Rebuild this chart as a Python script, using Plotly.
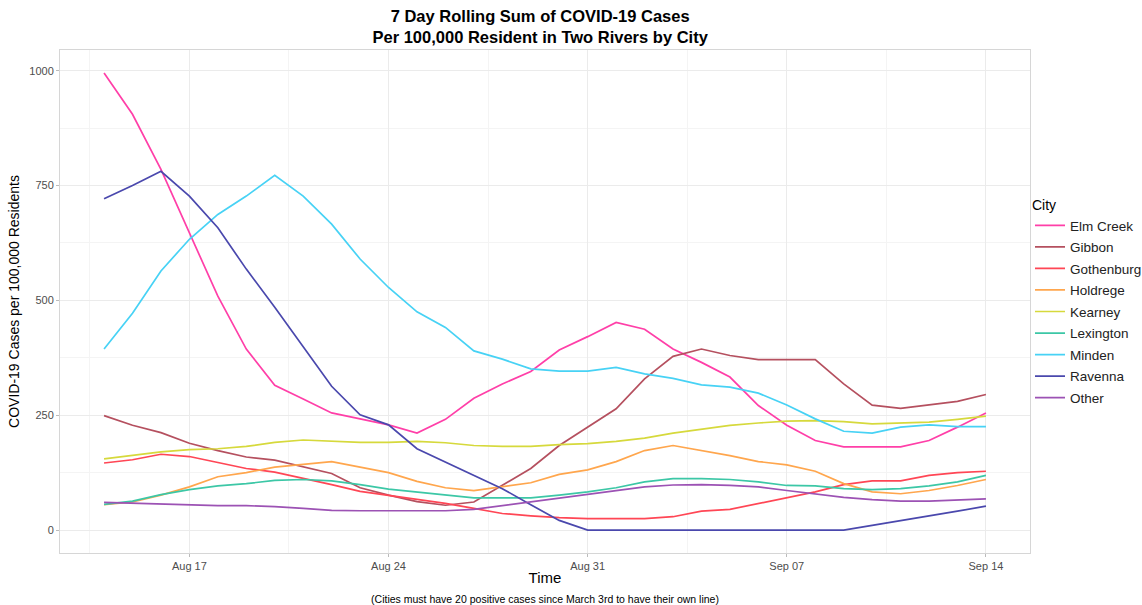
import plotly.graph_objects as go
import pandas as pd

dates = pd.date_range("2020-08-14", "2020-09-14", freq="D")

cities = ["Elm Creek", "Gibbon", "Gothenburg", "Holdrege", "Kearney",
          "Lexington", "Minden", "Ravenna", "Other"]

elm_creek = [995, 905, 785, 648, 509, 394, 315, 285, 255, 242, 229, 211, 241, 287, 318, 345,
             392, 421, 452, 437, 394, 365, 333, 271, 228, 195, 181, 181, 181, 195, 224, 255]
gibbon = [249, 228, 212, 189, 173, 159, 152, 137, 123, 92, 76, 62, 54, 61, 97, 134,
          184, 224, 264, 329, 378, 394, 380, 371, 371, 371, 318, 272, 265, 272, 280, 295]
gothenburg = [146, 153, 165, 160, 147, 134, 126, 113, 99, 84, 75, 66, 58, 47, 36, 31,
              27, 25, 25, 25, 29, 41, 45, 58, 71, 83, 99, 107, 107, 119, 125, 128]
holdrege = [55, 61, 76, 94, 116, 125, 137, 143, 149, 137, 125, 106, 92, 86, 95, 103,
            121, 131, 149, 173, 184, 173, 162, 149, 142, 128, 101, 83, 79, 86, 97, 110]
kearney = [155, 162, 170, 175, 177, 182, 191, 196, 194, 191, 191, 193, 190, 184, 182, 182,
           186, 188, 193, 200, 211, 219, 228, 233, 237, 238, 236, 231, 233, 235, 241, 248]
lexington = [56, 63, 77, 88, 96, 101, 108, 110, 107, 99, 89, 83, 76, 70, 70, 70,
             76, 83, 92, 105, 112, 112, 110, 105, 97, 96, 90, 88, 90, 96, 105, 119]
minden = [394, 472, 564, 633, 687, 727, 772, 727, 666, 590, 528, 475, 441, 390, 372, 351,
          346, 346, 354, 340, 330, 316, 311, 298, 272, 242, 215, 211, 224, 229, 225, 225]
ravenna = [721, 750, 781, 727, 658, 568, 485, 398, 313, 251, 229, 177, 148, 119, 90, 55,
           21, 0, 0, 0, 0, 0, 0, 0, 0, 0, 0, 10, 21, 31, 41, 52]
other = [60, 58, 57, 55, 53, 53, 51, 47, 43, 42, 42, 42, 42, 45, 53, 61,
         70, 78, 86, 94, 98, 99, 97, 94, 86, 79, 71, 66, 63, 63, 65, 68]

series = [elm_creek, gibbon, gothenburg, holdrege, kearney, lexington, minden, ravenna, other]
colors = ["#ff3fa8", "#b5505f", "#ff4655", "#ffa64d", "#d6d93c",
          "#3cc7a6", "#47d2f5", "#4a48ad", "#9c52b4"]

x_tick_vals = pd.to_datetime(["2020-08-17", "2020-08-24", "2020-08-31", "2020-09-07", "2020-09-14"])
x_tick_text = ["Aug 17", "Aug 24", "Aug 31", "Sep 07", "Sep 14"]
x_minor_vals = pd.to_datetime(["2020-08-13 12:00", "2020-08-20 12:00", "2020-08-27 12:00",
                               "2020-09-03 12:00", "2020-09-10 12:00"])
y_tick_vals = [0, 250, 500, 750, 1000]
y_minor_vals = [125, 375, 625, 875]

font_fam = "Liberation Sans, Arial, sans-serif"

fig = go.Figure()
for name, vals, col in zip(cities, series, colors):
    fig.add_trace(go.Scatter(x=dates, y=vals, mode="lines", name=name, legendgroup=name,
                             line=dict(color=col, width=1.7)))

fig.update_layout(
    width=1142, height=605,
    margin=dict(l=60, r=112, t=50, b=52, autoexpand=False),
    paper_bgcolor="white", plot_bgcolor="white",
    font=dict(family=font_fam, color="#000000"),
    title=dict(text="<b>7 Day Rolling Sum of COVID-19 Cases<br>Per 100,000 Resident in Two Rivers by City</b>",
               x=0.495, xanchor="center", xref="paper", y=0.964, yanchor="middle", yref="container",
               font=dict(size=16.5, color="#000000", family=font_fam)),
    legend=dict(title=dict(text="City", font=dict(size=14, color="#000")),
                x=1.0, xanchor="left", y=0.718, yanchor="top",
                font=dict(size=13.5, color="#222"), tracegroupgap=1,
                itemwidth=30, bgcolor="rgba(0,0,0,0)"),
    showlegend=True,
)

fig.update_xaxes(
    automargin=False,
    range=[pd.Timestamp("2020-08-12 10:50"), pd.Timestamp("2020-09-15 13:10")],
    tickmode="array", tickvals=x_tick_vals, ticktext=x_tick_text,
    showgrid=True, gridcolor="#ebebeb", gridwidth=1,
    minor=dict(tickmode="array", tickvals=x_minor_vals, showgrid=True, gridcolor="#f4f4f4", gridwidth=1),
    ticks="outside", ticklen=3, tickcolor="#bbbbbb",
    tickfont=dict(size=11, color="#4d4d4d"),
    showline=True, linecolor="#d6d6d6", linewidth=1, mirror=True,
    zeroline=False,
    title=dict(text="Time<br><span style='font-size:10.5px'>(Cities must have 20 positive cases since March 3rd to have their own line)</span>",
               font=dict(size=15, color="#000"), standoff=8),
)
fig.update_yaxes(
    automargin=False,
    range=[-50, 1045],
    tickmode="array", tickvals=y_tick_vals, ticktext=[str(v) for v in y_tick_vals],
    showgrid=True, gridcolor="#ebebeb", gridwidth=1,
    minor=dict(tickmode="array", tickvals=y_minor_vals, showgrid=True, gridcolor="#f4f4f4", gridwidth=1),
    ticks="outside", ticklen=3, tickcolor="#bbbbbb",
    tickfont=dict(size=11, color="#4d4d4d"),
    showline=True, linecolor="#d6d6d6", linewidth=1, mirror=True,
    zeroline=False,
    title=dict(text="COVID-19 Cases per 100,000 Residents", font=dict(size=14, color="#000"), standoff=6),
)

fig.write_html("out.html", config={"displayModeBar": False},
               post_script="document.body.style.margin='0';document.body.style.padding='0';")
